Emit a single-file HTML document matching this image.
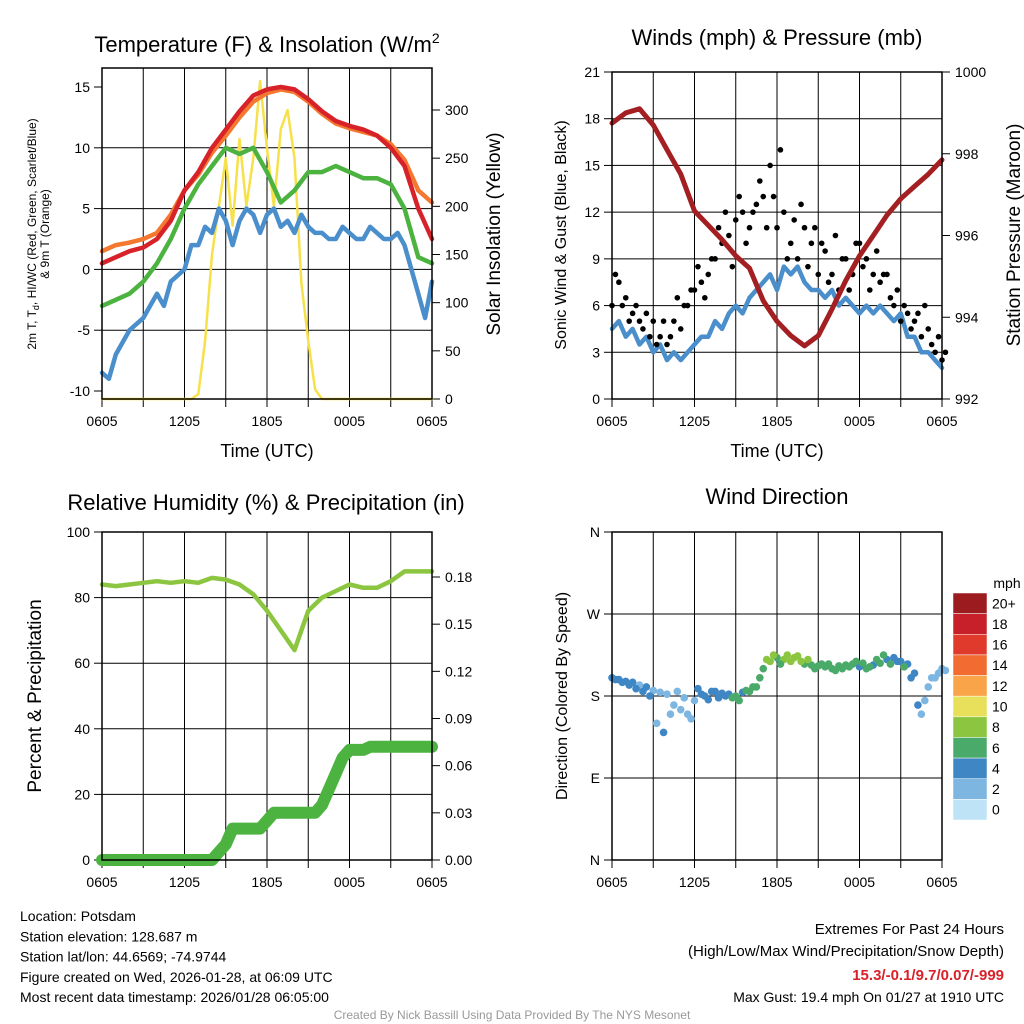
<!DOCTYPE html>
<html><head><meta charset="utf-8"><style>
body{margin:0;background:#fff;}
svg{display:block;font-family:"Liberation Sans",sans-serif;}
</style></head><body>
<svg id="c" width="1024" height="1024" xmlns="http://www.w3.org/2000/svg"></svg>
<script>
const hours = [0,1,2,3,4,5,6,7,8,9,10,11,12,13,14,15,16,17,18,19,20,21,22,23,24];
const halfHours = [0,0.5,1,1.5,2,2.5,3,3.5,4,4.5,5,5.5,6,6.5,7,7.5,8,8.5,9,9.5,10,10.5,11,11.5,12,12.5,13,13.5,14,14.5,15,15.5,16,16.5,17,17.5,18,18.5,19,19.5,20,20.5,21,21.5,22,22.5,23,23.5,24];
const timeLabels = ["0605","1205","1805","0005","0605"];
const tempRed = [0.5,1.0,1.5,1.8,2.5,4,6.5,8,10,11.5,13,14.3,14.8,15,14.8,14,13,12.2,11.8,11.5,11,10,8.5,5,2.5];
const tempOrange = [1.5,2,2.2,2.5,3,4.5,6.5,7.8,9.6,11,12.5,13.8,14.5,14.8,14.6,13.8,12.8,12,11.6,11.3,11,10.3,9,6.5,5.5];
const tempGreen = [-3,-2.5,-2,-1,0.5,2.5,5,7,8.5,10,9.5,10,8,5.5,6.5,8,8,8.5,8,7.5,7.5,7,5,1,0.5];
const tempBlue = [-8.5,-9,-7,-6,-5,-4.5,-4,-3,-2,-3,-1,-0.5,0,2,2,3.5,3,5,4,2,4,5,4.5,3,4.5,5,3.5,4,3,4.5,3.5,3,3,2.5,2.5,3.5,3,2.5,2.5,3.5,3,2.5,2.5,3,2,0,-2,-4,-1];
const solar = [0,0,0,0,0,0,0,0,0,0,0,0,0,0,5,60,150,200,250,180,270,200,250,330,260,200,280,300,250,120,60,10,0,0,0,0,0,0,0,0,0,0,0,0,0,0,0,0,0];
const windSpeed = [4.5,5,4,4.5,3.5,4,3,3.5,2.5,3,2.5,3,3.5,4,4,5,4.5,5.5,6,5.5,6.5,7,7.5,8,7,8.5,8,8.5,7.5,7,7,6.5,7,6,6.5,6,5.5,6,5.5,6,5.5,5,5.5,4,4,3,3,2.5,2];
const gust1 = [6,7.5,6.5,5.5,5,5.5,5,4,3.5,5,4.5,6,7,7.5,8,9,10,10.5,11.5,12,11,12.5,13,15,11,12,10,9,11,10,8,9.5,8,7,9,8,10,9,8,7.5,8,6,5,5.5,5,4,4.5,3,2.5];
const gust2 = [8,6,5,6,4.5,4,3.5,5,4,6.5,6,7,8.5,6.5,9,11,12,8.5,13,10,12,14,11,13,16,9,11.5,12.5,8.5,11,10,7.5,10.5,9,7,10,8.5,7,9.5,8,6.5,7,6,4.5,5.5,6,3.5,4,3];
const pressure = [998.75,999.0,999.1,998.7,998.1,997.5,996.6,996.25,995.9,995.5,995.2,994.4,993.9,993.55,993.3,993.55,994.2,994.9,995.5,996.0,996.5,996.9,997.2,997.5,997.85];
const rh = [84,83.5,84,84.5,85,84.5,85,84.5,86,85.5,84,81,76,70,64,76,80,82,84,83,83,85,88,88,88];
const precip = [0,0,0,0,0,0,0,0,0,0,0,0,0,0,0,0,0,0.005,0.01,0.02,0.02,0.02,0.02,0.02,0.025,0.03,0.03,0.03,0.03,0.03,0.03,0.03,0.035,0.045,0.055,0.065,0.07,0.07,0.07,0.072,0.072,0.072,0.072,0.072,0.072,0.072,0.072,0.072,0.072];
const dir1 = [200,198,196,195,192,190,186,184,182,170,165,160,175,182,176,185,183,182,180,184,185,190,210,218,222,220,218,224,215,214,213,212,210,213,214,215,212,210,214,216,220,222,218,215,205,160,190,200,210];
const dir2 = [198,195,192,188,185,180,150,140,160,185,178,155,188,180,185,178,180,178,175,186,190,200,220,225,215,225,222,218,220,210,215,215,208,210,212,218,216,212,220,225,215,218,212,200,170,175,200,205,208];
const barLabels = ["20+","18","16","14","12","10","8","6","4","2","0"];
const barColors = ["#9b1b1e","#c8202a","#e03a2c","#f26b30","#f9a448","#e8df5a","#8cc641","#4aaa6a","#3f86c4","#7cb6e1","#bfe3f6"];

const svg=document.getElementById('c');
const NS="http://www.w3.org/2000/svg";
function mk(tag,attrs,parent){const e=document.createElementNS(NS,tag);for(const k in attrs)e.setAttribute(k,attrs[k]);(parent||svg).appendChild(e);return e;}
function lin(d0,d1,r0,r1){return v=>r0+(v-d0)*(r1-r0)/(d1-d0);}
function txt(x,y,s,size,anchor,extra){const t=mk('text',Object.assign({x:x,y:y,'font-size':size,'text-anchor':anchor||'middle',fill:'#000'},extra||{}));t.textContent=s;return t;}
function path(xs,ys,xf,yf,color,w,name){let d='';for(let i=0;i<xs.length;i++)d+=(i?'L':'M')+xf(xs[i]).toFixed(1)+','+yf(ys[i]).toFixed(1);const p=mk('path',{d:d,fill:'none',stroke:color,'stroke-width':w,'stroke-linejoin':'round','stroke-linecap':'round'});return p;}
function stepColor(s){const idx=Math.min(10,Math.floor(s/2));return barColors[10-idx];}

function frame(x0,x1,y0,y1,ticksL,yL,fmtL,ticksR,yR,fmtR,hGrid,name){
  const xf=lin(0,24,x0,x1);
  const g=mk('g',{});
  for(let h=3;h<24;h+=3){mk('line',{x1:xf(h),x2:xf(h),y1:y0,y2:y1+8,stroke:'#000','stroke-width':1},g);}
  hGrid.forEach(v=>mk('line',{x1:x0,x2:x1,y1:yL(v),y2:yL(v),stroke:'#000','stroke-width':1},g));
  ticksL.forEach((v,i)=>{mk('line',{x1:x0-8,x2:x0,y1:yL(v),y2:yL(v),stroke:'#000'},g);txt(x0-12,yL(v)+5,fmtL[i],14,'end');});
  if(ticksR)ticksR.forEach((v,i)=>{mk('line',{x1:x1,x2:x1+8,y1:yR(v),y2:yR(v),stroke:'#000'},g);txt(x1+13,yR(v)+5,fmtR[i],14,'start');});
  timeLabels.forEach((s,i)=>{const x=xf(i*6);mk('line',{x1:x,x2:x,y1:y1,y2:y1+8,stroke:'#000'},g);txt(x,y1+27,s,14);});
  return {xf:xf,g:g};
}
function border(x0,x1,y0,y1){mk('rect',{x:x0,y:y0,width:x1-x0,height:y1-y0,fill:'none',stroke:'#000','stroke-width':1.5});}

// Panel 1
(function(){
  const yL=lin(-10,15,391,87), yR=lin(0,300,399,110);
  const f=frame(102,432,68,399,[-10,-5,0,5,10,15],yL,["-10","-5","0","5","10","15"],[0,50,100,150,200,250,300],yR,["0","50","100","150","200","250","300"],[-5,0,5,10],'temperature-panel');
  path(halfHours,solar,f.xf,yR,'#f7e14a',2.5,'solar-line');
  path(halfHours,tempBlue,f.xf,yL,'#4a8fcb',4.5,'temp-blue-line');
  path(hours,tempGreen,f.xf,yL,'#4db340',4.5,'temp-green-line');
  path(hours,tempOrange,f.xf,yL,'#f4782f',4.5,'temp-orange-line');
  path(hours,tempRed,f.xf,yL,'#d8222a',4.5,'temp-red-line');
  border(102,432,68,399);
  const t=txt(267,52,'Temperature (F) & Insolation (W/m',22);
  const sp=mk('tspan',{dy:-9,'font-size':14},t);sp.textContent='2';
  txt(267,457,'Time (UTC)',18);
  txt(0,0,'Solar Insolation (Yellow)',19,'middle',{transform:'translate(500,234) rotate(-90)'});
  const a=txt(0,0,'2m T, T',12,'middle',{transform:'translate(36,234) rotate(-90)'});
  const s1=mk('tspan',{'font-size':9,dy:3},a);s1.textContent='d';
  const s2=mk('tspan',{dy:-3},a);s2.textContent=', HI/WC (Red, Green, Scarlet/Blue)';
  txt(0,0,'& 9m T (Orange)',12,'middle',{transform:'translate(49,234) rotate(-90)'});
})();

// Panel 2
(function(){
  const yL=lin(0,21,399,72), yR=lin(992,1000,399,72);
  const f=frame(612,942,72,399,[0,3,6,9,12,15,18,21],yL,["0","3","6","9","12","15","18","21"],[992,994,996,998,1000],yR,["992","994","996","998","1000"],[3,6,9,12,15,18],'wind-panel');
  path(halfHours,windSpeed,f.xf,yL,'#4a8fcb',4.5,'wind-speed-line');
  [gust1,gust2].forEach((arr,k)=>arr.forEach((v,i)=>{const c=mk('circle',{cx:f.xf(halfHours[i]+k*0.25),cy:yL(v),r:2.8,fill:'#000'});}));
  path(hours,pressure,f.xf,yR,'#a31f22',5,'pressure-line');
  border(612,942,72,399);
  txt(777,45,'Winds (mph) & Pressure (mb)',22);
  txt(777,457,'Time (UTC)',18);
  txt(0,0,'Sonic Wind & Gust (Blue, Black)',16,'middle',{transform:'translate(566,235) rotate(-90)'});
  txt(0,0,'Station Pressure (Maroon)',19,'middle',{transform:'translate(1020,235) rotate(-90)'});
})();

// Panel 3
(function(){
  const yL=lin(0,100,860,532), yR=lin(0,0.18,860,577);
  const f=frame(102,432,532,860,[0,20,40,60,80,100],yL,["0","20","40","60","80","100"],[0,0.03,0.06,0.09,0.12,0.15,0.18],yR,["0.00","0.03","0.06","0.09","0.12","0.15","0.18"],[20,40,60,80],'humidity-panel');
  path(hours,rh,f.xf,yL,'#8cc641',4.5,'rh-line');
  path(halfHours,precip,f.xf,yR,'#4db340',12,'precip-line');
  border(102,432,532,860);
  txt(266,510,'Relative Humidity (%) & Precipitation (in)',22);
  txt(0,0,'Percent & Precipitation',19,'middle',{transform:'translate(41,696) rotate(-90)'});
})();

// Panel 4
(function(){
  const yL=lin(0,360,860,532);
  const f=frame(612,942,532,860,[0,90,180,270,360],yL,["N","E","S","W","N"],null,null,null,[90,180,270],'direction-panel');
  [dir1,dir2].forEach((arr,k)=>arr.forEach((v,i)=>{const c=mk('circle',{cx:f.xf(halfHours[i]+k*0.25),cy:yL(v),r:3.8,fill:stepColor(windSpeed[i]+k*0.8)});}));
  border(612,942,532,860);
  txt(777,504,'Wind Direction',22);
  txt(0,0,'Direction (Colored By Speed)',16,'middle',{transform:'translate(567,696) rotate(-90)'});
  const bh=(820-593)/11;
  barLabels.forEach((l,i)=>{const r=mk('rect',{x:953,y:593+i*bh,width:34,height:bh,fill:barColors[i],stroke:'#fff','stroke-width':0.5});txt(992,593+i*bh+bh/2+5,l,14,'start');});
  txt(1007,588,'mph',14);
})();

// text
const info=["Location: Potsdam","Station elevation: 128.687 m","Station lat/lon: 44.6569; -74.9744","Figure created on Wed, 2026-01-28, at 06:09 UTC","Most recent data timestamp: 2026/01/28 06:05:00"];
info.forEach((s,i)=>txt(20,921+i*20.3,s,14,'start'));
txt(1004,934,'Extremes For Past 24 Hours',15,'end');
txt(1004,956,'(High/Low/Max Wind/Precipitation/Snow Depth)',15,'end');
txt(1004,980,'15.3/-0.1/9.7/0.07/-999',15,'end',{fill:'#d8222a','font-weight':'bold'});
txt(1004,1002,'Max Gust: 19.4 mph On 01/27 at 1910 UTC',14,'end');
txt(512,1019,'Created By Nick Bassill Using Data Provided By The NYS Mesonet',12,'middle',{fill:'#999'});
</script>
</body></html>
